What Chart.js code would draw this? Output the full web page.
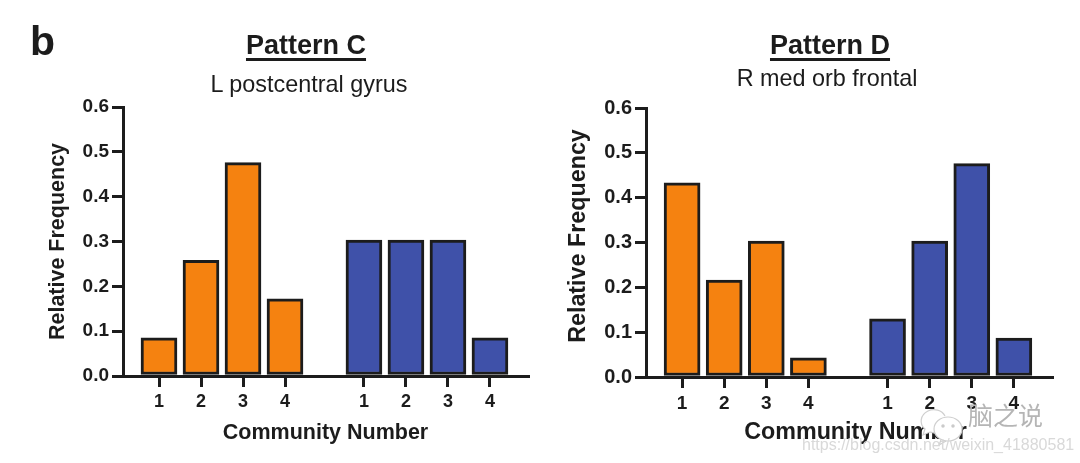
<!DOCTYPE html>
<html>
<head>
<meta charset="utf-8">
<script src="https://cdn.jsdelivr.net/npm/chart.js@4"></script>
<style>
    html, body { margin: 0; padding: 0; background: #fff; }
    #page { position: relative; width: 1080px; height: 463px; overflow: hidden; font-family: "Liberation Sans", Arial, sans-serif; color: #1c1c1c; }
    #page canvas { position: absolute; top: 0; }
    .txt { position: absolute; white-space: nowrap; line-height: 1; }
    .head { font-size: 27px; font-weight: bold; text-decoration: underline; text-underline-offset: 4px; text-decoration-thickness: 2.5px; transform: translateX(-50%); }
    .sub { font-size: 23.4px; transform: translateX(-50%); }
</style>
</head>
<body>
<div id="page">
    <canvas id="chartC" width="540" height="463" style="left:0"></canvas>
    <canvas id="chartD" width="540" height="463" style="left:540px"></canvas>

    <div class="txt" style="left:30px;top:21px;font-size:41px;font-weight:bold">b</div>
    <div class="txt head" style="left:306px;top:32px">Pattern C</div>
    <div class="txt sub" style="left:309px;top:73px">L postcentral gyrus</div>
    <div class="txt head" style="left:830px;top:32px">Pattern D</div>
    <div class="txt sub" style="left:827px;top:67px">R med orb frontal</div>

    <!-- watermark -->
    <svg style="position:absolute;left:918px;top:408px" width="48" height="38" viewBox="0 0 48 38" fill="none" stroke="#cfcfcf" stroke-width="1.2">
        <path d="M27 8 C24 2 16 0 10 3 C2 7 1 16 7 21 L5 27 L12 24 C13 24 15 25 17 25" fill="#fff"/>
        <ellipse cx="30" cy="21" rx="14" ry="12" fill="#fff"/>
        <path d="M23 32 L21 37 L28 33"/>
        <circle cx="25" cy="18" r="1.2" fill="#bbb"/>
        <circle cx="35" cy="18" r="1.2" fill="#bbb"/>
    </svg>
    <div class="txt" style="left:968px;top:402px;font-family:'Noto Sans CJK SC';font-size:25px;color:#b5b5b5">脑之说</div>
    <div class="txt" style="left:802px;top:437px;font-size:16px;color:#d9d9d9">https://blog.csdn.net/weixin_41880581</div>
</div>

<script>
const communityLabels = ["1", "2", "3", "4", "1", "2", "3", "4"];
// x slots on the shared axis, second group sits a bit under two steps after the first
const slots = [1, 2, 3, 4, 5.88, 6.88, 7.88, 8.88];

const patternCOrange = [0.085, 0.258, 0.476, 0.172];
const patternCBlue = [0.303, 0.303, 0.303, 0.085];
const patternDOrange = [0.433, 0.216, 0.303, 0.043];
const patternDBlue = [0.13, 0.303, 0.476, 0.087];

const INK = "#1c1c1c";
const ORANGE = "#f58210";
const BLUE = "#3f51a9";

function drawPanel(canvasId, orange, blue, box) {
    const toPoints = (values, offset) => values.map((y, i) => ({ x: slots[i + offset], y }));
    const tickFont = { family: "Liberation Sans", size: box.tickSize, weight: "bold" };
    const titleFont = { family: "Liberation Sans", size: box.titleSize, weight: "bold" };

    return new Chart(document.getElementById(canvasId), {
        type: "bar",
        data: {
            datasets: [
                { data: toPoints(orange, 0), backgroundColor: ORANGE },
                { data: toPoints(blue, 4), backgroundColor: BLUE }
            ]
        },
        options: {
            responsive: false,
            animation: false,
            grouped: false,
            layout: { padding: box.padding },
            datasets: { bar: { barThickness: 36, borderColor: INK, borderWidth: 3, borderSkipped: false } },
            plugins: { legend: { display: false }, tooltip: { enabled: false } },
            scales: {
                x: {
                    type: "linear",
                    offset: false,
                    min: box.xMin,
                    max: box.xMax,
                    border: { color: INK, width: 3 },
                    grid: { offset: false, drawOnChartArea: false, color: INK, lineWidth: 3, tickLength: 11 },
                    afterBuildTicks: scale => { scale.ticks = slots.map(value => ({ value })); },
                    afterFit: scale => { scale.height = box.xHeight; },
                    ticks: {
                        color: INK,
                        font: { ...tickFont, size: box.tickSize - 1 },
                        padding: 4,
                        maxRotation: 0,
                        autoSkip: false,
                        callback: (value, index) => communityLabels[index]
                    },
                    title: { display: true, text: box.xTitle, color: INK, font: titleFont, padding: 0 }
                },
                y: {
                    min: 0,
                    max: 0.6,
                    border: { color: INK, width: 3 },
                    grid: { drawOnChartArea: false, color: INK, lineWidth: 3, tickLength: 11 },
                    afterFit: scale => { scale.width = box.yWidth; },
                    ticks: {
                        stepSize: 0.1,
                        color: INK,
                        font: tickFont,
                        padding: 3,
                        callback: value => value.toFixed(1)
                    },
                    title: { display: true, text: box.yTitle, color: INK, font: titleFont, padding: 0 }
                }
            }
        }
    });
}

drawPanel("chartC", patternCOrange, patternCBlue, {
    padding: { left: 45, top: 107, right: 12, bottom: 17 },
    yWidth: 78,
    xHeight: 70,
    xMin: 1 - 36 / 42,
    xMax: 1 + 369 / 42,
    tickSize: 19,
    titleSize: 21.5,
    xTitle: "Community Number",
    yTitle: "Relative Frequency"
});

// right panel has slightly bigger type and its axis titles sit off-centre, nbsp nudges them
drawPanel("chartD", patternDOrange, patternDBlue, {
    padding: { left: 25, top: 108, right: 28, bottom: 16 },
    yWidth: 81,
    xHeight: 70,
    xMin: 1 - 36 / 42,
    xMax: 1 + 369 / 42,
    tickSize: 20,
    titleSize: 23.3,
    xTitle: "\u00a0\u00a0Community Number",
    yTitle: "\u00a0\u00a0Relative Frequency"
});
</script>
</body>
</html>
